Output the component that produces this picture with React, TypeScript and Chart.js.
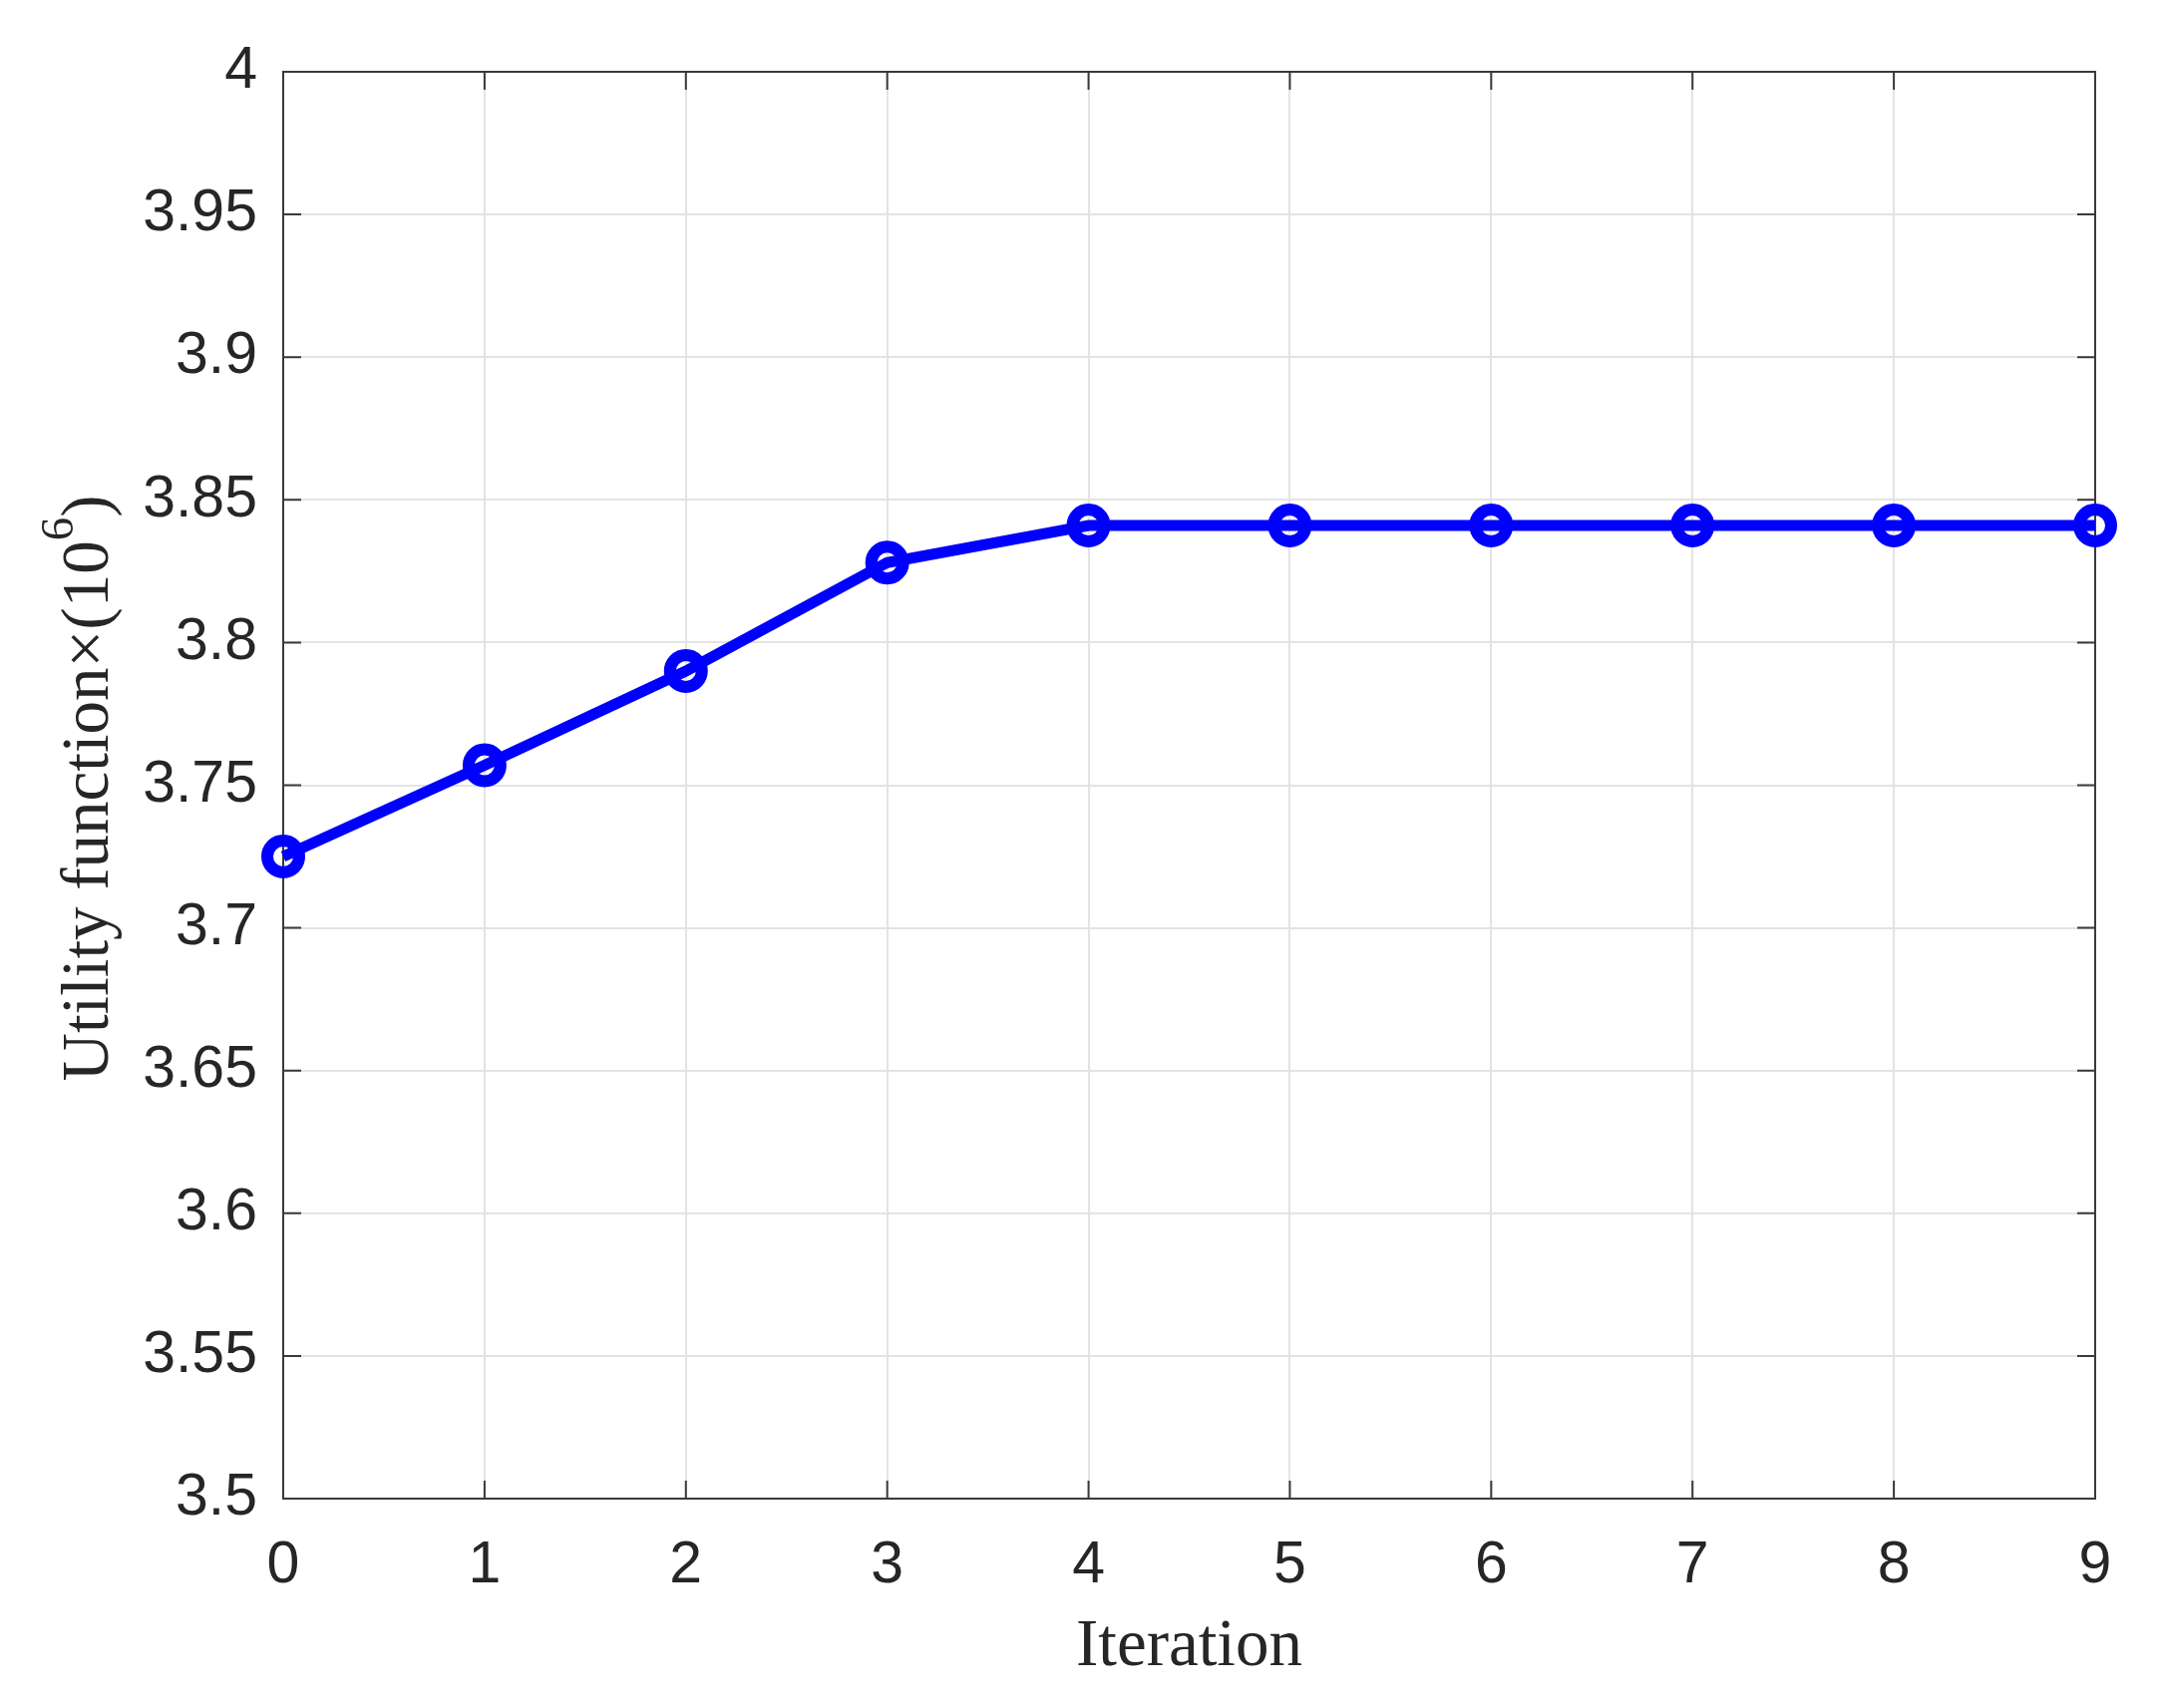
import React, { useEffect, useRef } from "react";
import { Chart, registerables } from "chart.js";

Chart.register(...registerables);

// ---- data ----
const iterations = [0, 1, 2, 3, 4, 5, 6, 7, 8, 9];
const utility = [3.725, 3.757, 3.79, 3.828, 3.841, 3.841, 3.841, 3.841, 3.841, 3.841];
const xTickValues = [0, 1, 2, 3, 4, 5, 6, 7, 8, 9];
const yTickValues = [3.5, 3.55, 3.6, 3.65, 3.7, 3.75, 3.8, 3.85, 3.9, 3.95, 4];
const yTickLabels = ["3.5", "3.55", "3.6", "3.65", "3.7", "3.75", "3.8", "3.85", "3.9", "3.95", "4"];
const xTitle = "Iteration";
const yTitleMain = "Utility function×(10";
const yTitleSup = "6";
const yTitleEnd = ")";

const W = 2168;
const H = 1713;

const framePlugin = {
  id: "matlabFrame",
  beforeDatasetsDraw(chart: any) {
    const { ctx, chartArea: a, scales } = chart;
    const tl = 18;
    ctx.save();
    ctx.strokeStyle = "#3a3a3a";
    ctx.lineWidth = 2;
    ctx.beginPath();
    for (const v of yTickValues) {
      const y = scales.y.getPixelForValue(v);
      ctx.moveTo(a.left, y);
      ctx.lineTo(a.left + tl, y);
      ctx.moveTo(a.right, y);
      ctx.lineTo(a.right - tl, y);
    }
    for (const v of xTickValues) {
      const x = scales.x.getPixelForValue(v);
      ctx.moveTo(x, a.bottom);
      ctx.lineTo(x, a.bottom - tl);
      ctx.moveTo(x, a.top);
      ctx.lineTo(x, a.top + tl);
    }
    ctx.stroke();
    ctx.strokeRect(a.left, a.top, a.right - a.left, a.bottom - a.top);
    ctx.restore();
  },
};

const yTitlePlugin = {
  id: "yTitleSup",
  afterDraw(chart: any) {
    const { ctx, chartArea: a } = chart;
    const mainFont = '67px "Liberation Serif", "Times New Roman", serif';
    const supFont = '47px "Liberation Serif", "Times New Roman", serif';
    ctx.save();
    ctx.font = mainFont;
    const w1 = ctx.measureText(yTitleMain).width;
    const w3 = ctx.measureText(yTitleEnd).width;
    ctx.font = supFont;
    const w2 = ctx.measureText(yTitleSup).width;
    const total = w1 + w2 + w3;
    ctx.translate(a.left - 176, (a.top + a.bottom) / 2 + 3);
    ctx.rotate(-Math.PI / 2);
    ctx.textBaseline = "alphabetic";
    ctx.textAlign = "left";
    ctx.fillStyle = "#262626";
    const start = -total / 2;
    ctx.font = mainFont;
    ctx.fillText(yTitleMain, start, 0);
    ctx.font = supFont;
    ctx.fillText(yTitleSup, start + w1, -35);
    ctx.font = mainFont;
    ctx.fillText(yTitleEnd, start + w1 + w2, 0);
    ctx.restore();
  },
};

export default function App() {
  const canvasRef = useRef<HTMLCanvasElement | null>(null);

  useEffect(() => {
    const canvas = canvasRef.current;
    if (!canvas) return;
    const chart = new Chart(canvas, {
      type: "line",
      data: {
        datasets: [
          {
            data: iterations.map((x, i) => ({ x, y: utility[i] })),
            borderColor: "#0000ff",
            borderWidth: 11,
            pointStyle: "circle",
            pointRadius: 16,
            pointBorderWidth: 12,
            pointBorderColor: "#0000ff",
            pointBackgroundColor: "rgba(0,0,0,0)",
            tension: 0,
            clip: false as any,
          },
        ],
      },
      options: {
        animation: false,
        responsive: false,
        devicePixelRatio: 1,
        layout: { padding: { left: 0, right: 67, top: 72, bottom: 0 } },
        plugins: {
          legend: { display: false },
          tooltip: { enabled: false },
        },
        scales: {
          x: {
            type: "linear",
            min: 0,
            max: 9,
            afterBuildTicks: (scale: any) => {
              scale.ticks = xTickValues.map((v) => ({ value: v }));
            },
            afterFit: (scale: any) => {
              scale.height = 210;
            },
            ticks: {
              padding: 32,
              color: "#262626",
              font: { family: '"Liberation Sans", Arial, sans-serif', size: 59 },
              maxRotation: 0,
              callback: (v: any) => String(v),
            },
            grid: { color: "#e3e3e3", lineWidth: 2, drawTicks: false },
            border: { display: false },
            title: {
              display: true,
              text: xTitle,
              color: "#262626",
              font: { family: '"Liberation Serif", "Times New Roman", serif', size: 67 },
              padding: { top: 0, bottom: 20 },
            },
          },
          y: {
            type: "linear",
            min: 3.5,
            max: 4,
            afterBuildTicks: (scale: any) => {
              scale.ticks = yTickValues.map((v) => ({ value: v }));
            },
            afterFit: (scale: any) => {
              scale.width = 284;
            },
            ticks: {
              padding: 26,
              color: "#262626",
              font: { family: '"Liberation Sans", Arial, sans-serif', size: 59 },
              callback: (_v: any, i: number) => yTickLabels[i],
            },
            grid: { color: "#e3e3e3", lineWidth: 2, drawTicks: false },
            border: { display: false },
          },
        },
      },
      plugins: [framePlugin, yTitlePlugin],
    });
    return () => chart.destroy();
  }, []);

  return (
    <div style={{ position: "absolute", left: 0, top: 0, width: W, height: H, background: "#ffffff" }}>
      <canvas ref={canvasRef} width={W} height={H} style={{ display: "block" }} />
    </div>
  );
}
